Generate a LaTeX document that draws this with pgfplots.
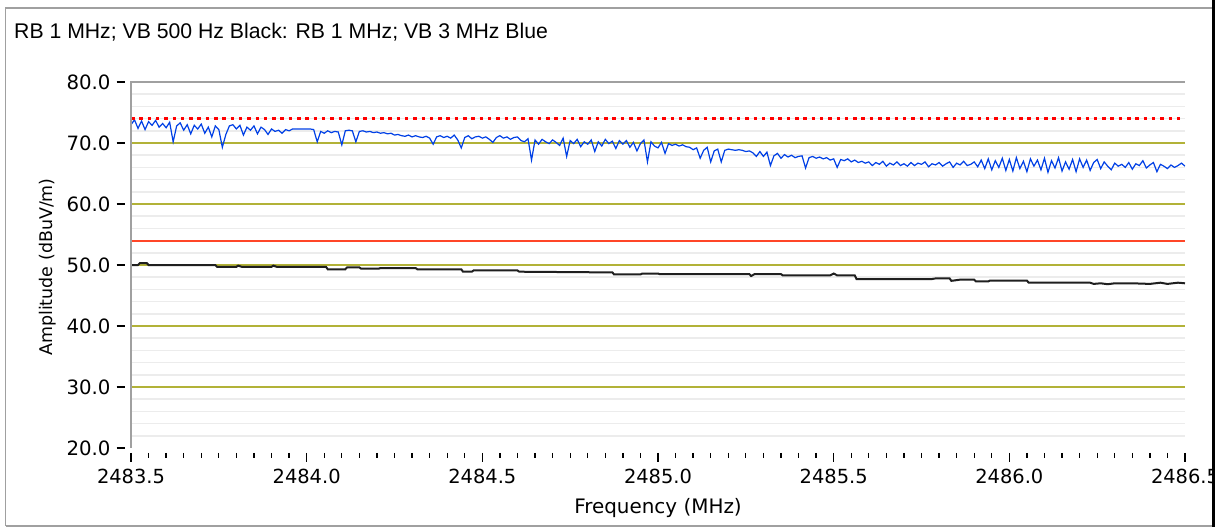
\documentclass[border=0pt]{standalone}
\usepackage{pgfplots}
\pgfplotsset{compat=1.18}
\usepackage{fontspec}
\setmainfont{Liberation Sans}
\newfontfamily\dejavu{DejaVu Sans}
\definecolor{olive2}{RGB}{178,178,56}
\definecolor{minorg}{RGB}{236,236,236}
\definecolor{axgray}{RGB}{160,160,160}
\definecolor{traceblue}{RGB}{0,64,230}
\definecolor{limred}{RGB}{255,70,40}
\definecolor{dotred}{RGB}{255,0,0}
\begin{document}
\begin{tikzpicture}
\path[use as bounding box] (0,0) rectangle (1225bp,527bp);
\fill[white] (0,0) rectangle (1225bp,527bp);
\draw[axgray, line width=1.5bp] (5.5bp,1bp) -- (5.5bp,519bp) -- (1213bp,519bp);
\draw[axgray, line width=1.5bp] (5.5bp,1bp) -- (1213bp,1bp);
\node[anchor=base west, inner sep=0, font=\fontsize{21.3}{23}\selectfont] at (14bp,488bp) {RB 1 MHz; VB 500 Hz Black: RB 1 MHz; VB 3 MHz Blue};
% grid (value v at y = 79 + (v-20)*6.1 bp)
\foreach \v in {22,24,26,28,32,34,36,38,42,44,46,48,52,54,56,58,62,64,66,68,72,74,76,78}{
  \draw[minorg, line width=1.5bp] (131bp,79bp+\v*6.1bp-122bp) -- (1185bp,79bp+\v*6.1bp-122bp);
}
\foreach \v in {30,40,50,60,70}{
  \draw[olive2, line width=2bp] (131bp,79bp+\v*6.1bp-122bp) -- (1185bp,79bp+\v*6.1bp-122bp);
}
\foreach \v in {20,30,40,50,60,70,80}{
  \draw[black, line width=1.2bp] (116.5bp,79bp+\v*6.1bp-122bp) -- (124.5bp,79bp+\v*6.1bp-122bp);
}
\begin{axis}[
  at={(131bp,79bp)}, anchor=south west, scale only axis,
  width=1054bp, height=366bp,
  xmin=2483.5, xmax=2486.5, ymin=20, ymax=80,
  axis line style={draw=none},
  ytick={20,30,40,50,60,70,80},
  xtick={2483.5,2484,2484.5,2485,2485.5,2486,2486.5},
  tick style={draw=none},
  scaled ticks=false,
  yticklabel style={font=\dejavu\fontsize{19.8}{20}\selectfont, xshift=-17bp},
  xticklabel style={font=\dejavu\fontsize{19.5}{20}\selectfont, yshift=-18bp},
  /pgf/number format/fixed,
  /pgf/number format/fixed zerofill,
  /pgf/number format/precision=1,
  /pgf/number format/1000 sep={},
  /pgf/number format/assume math mode=true,
]
\addplot[limred, line width=2bp] coordinates {(2483.5,54) (2486.5,54)};
% black trace
\addplot[black!88, line width=2bp] coordinates {
(2483.500,50.0) (2483.520,50.0) (2483.525,50.3) (2483.545,50.3) (2483.550,50.0)
(2483.740,50.0) (2483.745,49.7) (2483.800,49.7) (2483.805,49.9) (2483.815,49.7)
(2483.900,49.7) (2483.905,49.9) (2483.915,49.7) (2484.055,49.7) (2484.060,49.3)
(2484.110,49.3) (2484.115,49.6) (2484.150,49.6) (2484.155,49.4) (2484.205,49.4)
(2484.210,49.5) (2484.310,49.5) (2484.315,49.3) (2484.440,49.3) (2484.445,48.9)
(2484.470,48.9) (2484.475,49.1) (2484.600,49.1) (2484.605,48.9) (2484.830,48.8)
(2484.870,48.8) (2484.875,48.45) (2484.950,48.45) (2484.955,48.6) (2485.000,48.6)
(2485.005,48.5) (2485.260,48.5) (2485.265,48.2) (2485.275,48.5) (2485.350,48.5)
(2485.355,48.3) (2485.490,48.3) (2485.500,48.6) (2485.510,48.3) (2485.560,48.3)
(2485.565,47.7) (2485.780,47.7) (2485.790,47.8) (2485.830,47.8) (2485.835,47.4)
(2485.860,47.6) (2485.900,47.6) (2485.905,47.3) (2485.940,47.3) (2485.945,47.45)
(2486.050,47.45) (2486.055,47.1) (2486.230,47.1) (2486.240,46.9) (2486.260,47.0)
(2486.280,46.85) (2486.300,47.0) (2486.350,47.0) (2486.400,46.9) (2486.430,47.1)
(2486.450,46.9) (2486.480,47.1) (2486.500,47.0)
};
% blue trace
\addplot[traceblue, line width=1.2bp] coordinates {
(2483.50,73.0) (2483.51,73.8) (2483.52,72.4) (2483.53,73.6) (2483.54,72.2) (2483.55,73.5) (2483.56,72.9) (2483.57,73.7) (2483.58,72.6) (2483.59,73.2)
(2483.60,72.5) (2483.61,73.4) (2483.62,70.2) (2483.63,72.8) (2483.64,73.3) (2483.65,72.1) (2483.66,73.0) (2483.67,71.5) (2483.68,72.9) (2483.69,72.3)
(2483.70,73.1) (2483.71,71.6) (2483.72,72.6) (2483.73,71.0) (2483.74,72.8) (2483.75,72.2) (2483.76,69.3) (2483.77,71.4) (2483.78,72.8) (2483.79,73.0)
(2483.80,72.3) (2483.81,72.9) (2483.82,71.3) (2483.83,72.6) (2483.84,72.1) (2483.85,72.8) (2483.86,71.5) (2483.87,72.6) (2483.88,72.2) (2483.89,71.4)
(2483.90,72.3) (2483.91,71.9) (2483.92,72.1) (2483.93,71.6) (2483.94,72.2) (2483.95,72.0) (2483.96,72.3) (2483.97,72.3) (2483.98,72.3) (2483.99,72.3)
(2484.00,72.3) (2484.01,72.3) (2484.02,72.2) (2484.03,70.2) (2484.04,71.9) (2484.05,71.6) (2484.06,72.0) (2484.07,71.7) (2484.08,71.9) (2484.09,71.8)
(2484.10,69.7) (2484.11,72.0) (2484.12,72.1) (2484.13,72.0) (2484.14,70.2) (2484.15,71.9) (2484.16,72.0) (2484.17,71.8) (2484.18,71.9) (2484.19,71.7)
(2484.20,71.8) (2484.21,71.6) (2484.22,71.7) (2484.23,71.5) (2484.24,71.6) (2484.25,71.3) (2484.26,71.4) (2484.27,71.2) (2484.28,71.1) (2484.29,71.3)
(2484.30,71.0) (2484.31,71.2) (2484.32,71.0) (2484.33,70.9) (2484.34,71.1) (2484.35,70.8) (2484.36,69.8) (2484.37,71.0) (2484.38,71.2) (2484.39,70.9)
(2484.40,71.1) (2484.41,70.8) (2484.42,71.3) (2484.43,70.5) (2484.44,69.2) (2484.45,70.9) (2484.46,71.2) (2484.47,70.7) (2484.48,71.0) (2484.49,71.1)
(2484.50,70.8) (2484.51,71.0) (2484.52,70.6) (2484.53,70.1) (2484.54,70.9) (2484.55,71.2) (2484.56,70.8) (2484.57,71.0) (2484.58,70.6) (2484.59,70.9)
(2484.60,71.0) (2484.61,70.4) (2484.62,70.2) (2484.63,70.7) (2484.64,67.2) (2484.65,70.5) (2484.66,69.8) (2484.67,70.6) (2484.68,70.2) (2484.69,69.9)
(2484.70,70.5) (2484.71,70.1) (2484.72,69.6) (2484.73,70.8) (2484.74,67.8) (2484.75,70.4) (2484.76,69.9) (2484.77,70.6) (2484.78,69.4) (2484.79,70.2)
(2484.80,69.8) (2484.81,70.5) (2484.82,68.6) (2484.83,70.2) (2484.84,69.5) (2484.85,70.6) (2484.86,69.9) (2484.87,70.3) (2484.88,69.1) (2484.89,70.4)
(2484.90,69.8) (2484.91,70.4) (2484.92,69.3) (2484.93,70.1) (2484.94,68.7) (2484.95,69.9) (2484.96,70.5) (2484.97,66.9) (2484.98,70.2) (2484.99,69.5)
(2485.00,69.2) (2485.01,70.1) (2485.02,68.3) (2485.03,69.9) (2485.04,69.6) (2485.05,69.8) (2485.06,69.5) (2485.07,69.7) (2485.08,69.4) (2485.09,69.3)
(2485.10,68.9) (2485.11,69.2) (2485.12,67.5) (2485.13,68.8) (2485.14,69.3) (2485.15,66.9) (2485.16,68.7) (2485.17,69.0) (2485.18,66.9) (2485.19,68.8)
(2485.20,69.0) (2485.21,68.9) (2485.22,68.8) (2485.23,68.9) (2485.24,68.8) (2485.25,68.6) (2485.26,68.7) (2485.27,68.4) (2485.28,67.8) (2485.29,68.6)
(2485.30,67.8) (2485.31,68.5) (2485.32,66.3) (2485.33,67.9) (2485.34,68.3) (2485.35,67.5) (2485.36,68.1) (2485.37,67.7) (2485.38,68.0) (2485.39,67.6)
(2485.40,67.8) (2485.41,67.9) (2485.42,65.9) (2485.43,67.6) (2485.44,67.8) (2485.45,67.5) (2485.46,67.7) (2485.47,67.4) (2485.48,67.6) (2485.49,67.2)
(2485.50,67.4) (2485.51,66.0) (2485.52,67.3) (2485.53,67.1) (2485.54,67.4) (2485.55,66.9) (2485.56,67.2) (2485.57,66.8) (2485.58,67.0) (2485.59,66.7)
(2485.60,66.9) (2485.61,66.3) (2485.62,66.8) (2485.63,66.5) (2485.64,67.0) (2485.65,66.2) (2485.66,66.7) (2485.67,66.4) (2485.68,66.9) (2485.69,66.3)
(2485.70,66.6) (2485.71,66.2) (2485.72,66.8) (2485.73,66.3) (2485.74,66.7) (2485.75,66.5) (2485.76,66.9) (2485.77,66.1) (2485.78,66.6) (2485.79,66.4)
(2485.80,66.8) (2485.81,66.2) (2485.82,66.6) (2485.83,66.9) (2485.84,66.0) (2485.85,66.7) (2485.86,66.4) (2485.87,67.0) (2485.88,66.3) (2485.89,66.5)
(2485.90,66.9) (2485.91,66.1) (2485.92,67.2) (2485.93,65.8) (2485.94,67.4) (2485.95,65.6) (2485.96,67.1) (2485.97,66.0) (2485.98,67.5) (2485.99,65.5)
(2486.00,67.3) (2486.01,65.4) (2486.02,67.6) (2486.03,65.8) (2486.04,67.0) (2486.05,65.3) (2486.06,67.4) (2486.07,66.2) (2486.08,67.2) (2486.09,65.6)
(2486.10,67.5) (2486.11,65.2) (2486.12,67.1) (2486.13,65.9) (2486.14,67.6) (2486.15,65.4) (2486.16,66.9) (2486.17,65.7) (2486.18,67.3) (2486.19,65.3)
(2486.20,67.4) (2486.21,66.0) (2486.22,67.2) (2486.23,65.5) (2486.24,66.8) (2486.25,67.3) (2486.26,65.8) (2486.27,66.9) (2486.28,66.2) (2486.29,65.6)
(2486.30,66.7) (2486.31,66.2) (2486.32,66.5) (2486.33,66.0) (2486.34,66.8) (2486.35,65.7) (2486.36,66.6) (2486.37,66.3) (2486.38,67.1) (2486.39,65.9)
(2486.40,66.4) (2486.41,66.8) (2486.42,65.3) (2486.43,66.5) (2486.44,66.2) (2486.45,65.8) (2486.46,66.4) (2486.47,66.0) (2486.48,66.3) (2486.49,66.7)
(2486.50,66.2)
};
\addplot[dotred, line width=3bp, dash pattern=on 3.5bp off 4.8bp] coordinates {(2483.5,74) (2486.5,74)};
\end{axis}
\draw[axgray, line width=2bp] (131bp,79bp) -- (131bp,445bp) -- (1185bp,445bp);
\foreach \i in {0,...,60}{
  \pgfmathsetmacro\len{ifthenelse(mod(\i,10)==0,9,5.5)}
  \draw[black, line width=1.3bp] (131bp+\i*17.5667bp,74bp) -- ++(0,-\len bp);
}
\node[anchor=base, inner sep=0, font=\dejavu\fontsize{20}{22}\selectfont] at (658bp,14bp) {Frequency (MHz)};
\node[rotate=90, anchor=base, inner sep=0, font=\dejavu\fontsize{17.5}{20}\selectfont] at (52bp,260bp) {Amplitude (dBuV/m)};
\fill[white] (1212bp,0) rectangle (1225bp,527bp);
\draw[black, line width=3bp] (1213.5bp,0) -- (1213.5bp,527bp);
\end{tikzpicture}
\end{document}
